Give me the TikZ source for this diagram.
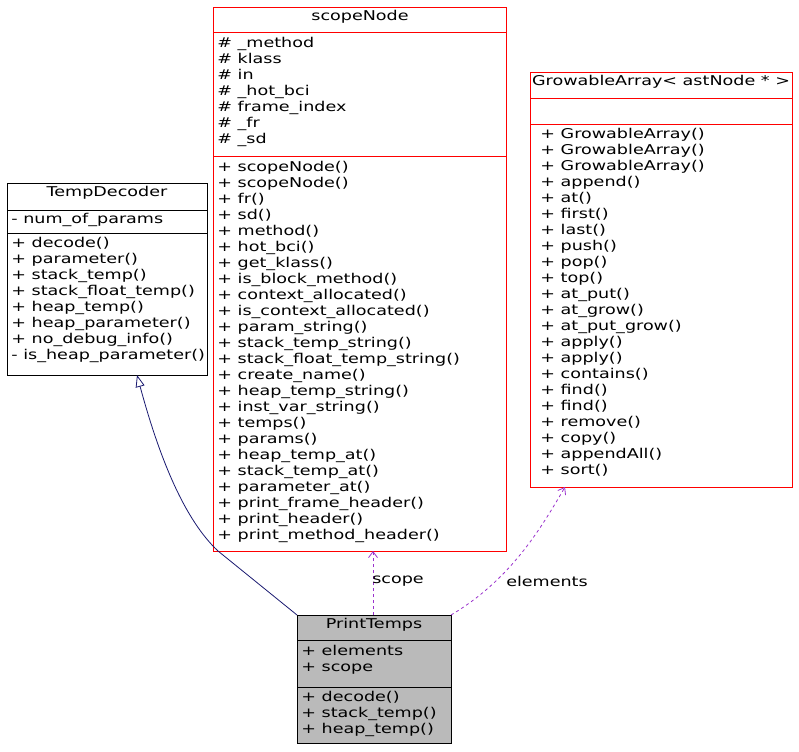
\documentclass[tikz,border=0pt]{standalone}
\usepackage{fontspec}
\setmainfont[FakeStretch=1.3]{DejaVu Sans}
\usetikzlibrary{arrows.meta,positioning}
\definecolor{edgeblue}{HTML}{191970}
\definecolor{edgepurple}{HTML}{9A32CD}
\begin{document}
\begin{tikzpicture}[x=1pt,y=-1pt,line width=0.8pt,
    box/.style={rectangle, draw, anchor=north west, inner sep=0pt},
    txt/.style={anchor=north west, align=left, inner sep=0pt, font=\fontsize{13.5}{16}\selectfont},
    ttl/.style={anchor=north, inner sep=0pt, font=\fontsize{13.5}{16}\selectfont},
    inherit/.style={draw=edgeblue, -{Triangle[open,length=12pt,width=9pt]}},
    use/.style={draw=edgepurple, dashed, -{Straight Barb[length=6pt,width=9pt]}}
]
\useasboundingbox (0,0) rectangle (799,751);

% TempDecoder
\node[box, minimum width=200pt, minimum height=192pt] (dec) at (7,183) {};
\draw (7,210) -- (207,210) (7,233) -- (207,233);
\node[ttl] (decT) at (107,186) {TempDecoder};
\node[txt] (decA) at (11,213) {- num\_of\_params};
\node[txt] (decO) at (11,237) {+ decode()\\+ parameter()\\+ stack\_temp()\\+ stack\_float\_temp()\\+ heap\_temp()\\+ heap\_parameter()\\+ no\_debug\_info()\\- is\_heap\_parameter()};

% scopeNode
\node[box, red, minimum width=293pt, minimum height=544pt] (scope) at (213,7) {};
\draw[red] (213,32) -- (506,32) (213,156) -- (506,156);
\node[ttl] (scopeT) at (360,10) {scopeNode};
\node[txt] (scopeA) at (217,37) {\# \_method\\\# klass\\\# in\\\# \_hot\_bci\\\# frame\_index\\\# \_fr\\\# \_sd};
\node[txt] (scopeO) at (217,161) {+ scopeNode()\\+ scopeNode()\\+ fr()\\+ sd()\\+ method()\\+ hot\_bci()\\+ get\_klass()\\+ is\_block\_method()\\+ context\_allocated()\\+ is\_context\_allocated()\\+ param\_string()\\+ stack\_temp\_string()\\+ stack\_float\_temp\_string()\\+ create\_name()\\+ heap\_temp\_string()\\+ inst\_var\_string()\\+ temps()\\+ params()\\+ heap\_temp\_at()\\+ stack\_temp\_at()\\+ parameter\_at()\\+ print\_frame\_header()\\+ print\_header()\\+ print\_method\_header()};

% GrowableArray
\node[box, red, minimum width=262pt, minimum height=415pt] (arr) at (530,72) {};
\draw[red] (530,98) -- (792,98) (530,124) -- (792,124);
\node[ttl] (arrT) at (661,75) {GrowableArray< astNode * >};
\node[txt] (arrO) at (540,128) {+ GrowableArray()\\+ GrowableArray()\\+ GrowableArray()\\+ append()\\+ at()\\+ first()\\+ last()\\+ push()\\+ pop()\\+ top()\\+ at\_put()\\+ at\_grow()\\+ at\_put\_grow()\\+ apply()\\+ apply()\\+ contains()\\+ find()\\+ find()\\+ remove()\\+ copy()\\+ appendAll()\\+ sort()};

% PrintTemps
\node[box, fill=black!27, minimum width=154pt, minimum height=128pt] (pt) at (297,615) {};
\draw (297,640) -- (451,640) (297,687) -- (451,687);
\node[ttl] (ptT) at (374,618) {PrintTemps};
\node[txt] (ptA) at (301,645) {+ elements\\+ scope};
\node[txt] (ptO) at (301,691) {+ decode()\\+ stack\_temp()\\+ heap\_temp()};

% connectors
\coordinate (ptL) at (297,615);
\coordinate (ptM) at (373,615);
\coordinate (ptR) at (451,615);
\draw[inherit] (ptL) -- (218,551) .. controls (185,520) and (160,460) .. (137,375);
\draw[use] (ptM) -- (373,551);
\node[font=\fontsize{13.5}{16}\selectfont] (scL) at (398,581) {scope};
\draw[use] (ptR) .. controls (510,580) and (540,530) .. (565,487);
\node[font=\fontsize{13.5}{16}\selectfont] (elL) at (547,581) {elements};
\end{tikzpicture}
\end{document}
